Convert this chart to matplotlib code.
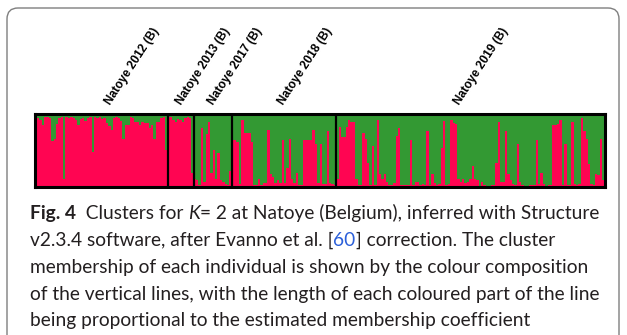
import matplotlib
matplotlib.use('Agg')
import matplotlib.pyplot as plt
from matplotlib.patches import FancyBboxPatch
import numpy as np

# membership coefficient of the red cluster for each individual (green = 1 - q)
groups = ['Natoye 2012 (B)', 'Natoye 2013 (B)', 'Natoye 2017 (B)',
          'Natoye 2018 (B)', 'Natoye 2019 (B)']

q2012 = [0.95, 0.95, 0.93, 0.85, 0.96, 0.96, 0.95, 0.64, 0.67, 0.87,
         0.95, 0.96, 0.11, 0.96, 0.95, 0.96, 0.95, 0.93, 0.86, 0.94,
         0.95, 0.91, 0.95, 0.96, 0.49, 0.96, 0.95, 0.96, 0.94, 0.95,
         0.88, 0.84, 0.79, 0.95, 0.96, 0.95, 0.91, 0.67, 0.86, 0.86,
         0.96, 0.95, 0.90, 0.90, 0.86, 0.90, 0.88, 0.88, 0.82, 0.86,
         0.67, 0.90, 0.90, 0.95, 0.96, 0.51]
q2013 = [0.97, 0.96, 0.93, 0.90, 0.94, 0.92, 0.90, 0.95, 0.96, 0.95, 0.20]
q2017 = [0.12, 0.10, 0.04, 0.81, 0.08, 0.73, 0.90, 0.20, 0.51, 0.12,
         0.47, 0.10, 0.08, 0.05, 0.03, 0.22]
q2018 = [0.65, 0.65, 0.62, 0.05, 0.93, 0.75, 0.75, 0.75, 0.62, 0.04,
         0.04, 0.11, 0.04, 0.06, 0.06, 0.79, 0.18, 0.15, 0.06, 0.10,
         0.06, 0.65, 0.06, 0.27, 0.67, 0.11, 0.06, 0.20, 0.04, 0.04,
         0.65, 0.65, 0.65, 0.65, 0.79, 0.60, 0.06, 0.60, 0.05, 0.05,
         0.78, 0.06, 0.05, 0.04]
q2019 = [0.11, 0.83, 0.69, 0.69, 0.83, 0.93, 0.90, 0.90, 0.11, 0.04,
         0.04, 0.74, 0.67, 0.34, 0.04, 0.57, 0.04, 0.93, 0.18, 0.11,
         0.18, 0.08, 0.04, 0.04, 0.06, 0.71, 0.81, 0.04, 0.04, 0.04,
         0.04, 0.65, 0.04, 0.08, 0.08, 0.03, 0.05, 0.04, 0.78, 0.04,
         0.18, 0.06, 0.04, 0.05, 0.54, 0.91, 0.04, 0.05, 0.92, 0.88,
         0.87, 0.11, 0.08, 0.11, 0.06, 0.08, 0.11,
         0.29, 0.12, 0.10, 0.02, 0.07, 0.04, 0.02, 0.02, 0.03, 0.03,
         0.34, 0.90, 0.07, 0.07, 0.78, 0.19, 0.10, 0.05, 0.03, 0.60,
         0.07, 0.04, 0.02, 0.02, 0.04, 0.04, 0.04, 0.65, 0.05, 0.20,
         0.05, 0.02, 0.04, 0.04, 0.85, 0.85, 0.87, 0.92, 0.03, 0.59,
         0.03, 0.04, 0.90, 0.05, 0.04, 0.05, 0.95, 0.77, 0.66, 0.32,
         0.05, 0.03, 0.18, 0.17, 0.66, 0.10]

caption = [
    [('Fig. 4', 'bold', 'normal', None), ('  Clusters for ', 'normal', 'normal', None),
     ('K', 'normal', 'italic', None),
     ('= 2 at Natoye (Belgium), inferred with Structure', 'normal', 'normal', None)],
    [('v2.3.4 software, after Evanno et al. [', 'normal', 'normal', None),
     ('60', 'normal', 'normal', '#2b5fd9'),
     ('] correction. The cluster', 'normal', 'normal', None)],
    [('membership of each individual is shown by the colour composition', 'normal', 'normal', None)],
    [('of the vertical lines, with the length of each coloured part of the line', 'normal', 'normal', None)],
    [('being proportional to the estimated membership coefficient', 'normal', 'normal', None)],
]

RED = '#ff0552'
GREEN = '#339933'
W, H = 627, 335

fig = plt.figure(figsize=(W / 100, H / 100), dpi=100)

# rounded grey box around the figure (runs off the bottom edge)
box = FancyBboxPatch((0.07, -0.2), 6.12, 3.47, boxstyle='round,pad=0,rounding_size=0.11',
                     transform=fig.dpi_scale_trans, facecolor='none',
                     edgecolor='#7f7f7f', linewidth=1.0)
fig.add_artist(box)

ax = fig.add_axes([34.5 / W, 1 - 187.5 / H, 570 / W, 73 / H])
data = [q2012, q2013, q2017, q2018, q2019]
q = np.concatenate([np.array(d) for d in data])
x = np.arange(len(q))
ax.bar(x, q, width=1.0, color=RED, linewidth=0, antialiased=False)
ax.bar(x, 1 - q, bottom=q, width=1.0, color=GREEN, linewidth=0, antialiased=False)
ax.set_xlim(-0.5, len(q) - 0.5)
ax.set_ylim(0, 1)
ax.set_xticks([])
ax.set_yticks([])
for s in ax.spines.values():
    s.set_linewidth(2.2)
    s.set_color('black')
bounds = np.cumsum([len(d) for d in data])[:-1]
for b in bounds:
    ax.axvline(b - 0.5, color='black', lw=1.6)

# group labels above the plot (left edge of label box, pixels)
label_px = [103, 174, 206, 276, 452]
for name, lx in zip(groups, label_px):
    fig.text(lx / W, 1 - 107 / H, name, rotation=57, ha='left', va='bottom',
             fontsize=8.6, fontweight='bold', family='Liberation Sans')

# caption
renderer = fig.canvas.get_renderer()
cap_font = 'Lato'
probe = fig.text(0, 0, caption[3][0][0], fontsize=10, family=cap_font)
w10 = probe.get_window_extent(renderer=renderer).width
probe.remove()
cap_size = 10 * 570 / w10


def advance(txt, **kw):
    t = fig.text(0, 0, txt + '|', **kw)
    w1 = t.get_window_extent(renderer=renderer).width
    t.set_text('|')
    w2 = t.get_window_extent(renderer=renderer).width
    t.remove()
    return w1 - w2


baselines = [219, 246, 273, 300, 326]
for yb, runs in zip(baselines, caption):
    xp = 30
    for txt, weight, style, col in runs:
        kw = dict(fontsize=cap_size, family=cap_font, fontweight=weight,
                  fontstyle=style, color=col or '#231f20')
        fig.text(xp / W, 1 - yb / H, txt, ha='left', va='baseline', **kw)
        xp += advance(txt, **kw)

fig.savefig('out.png', dpi=100)
